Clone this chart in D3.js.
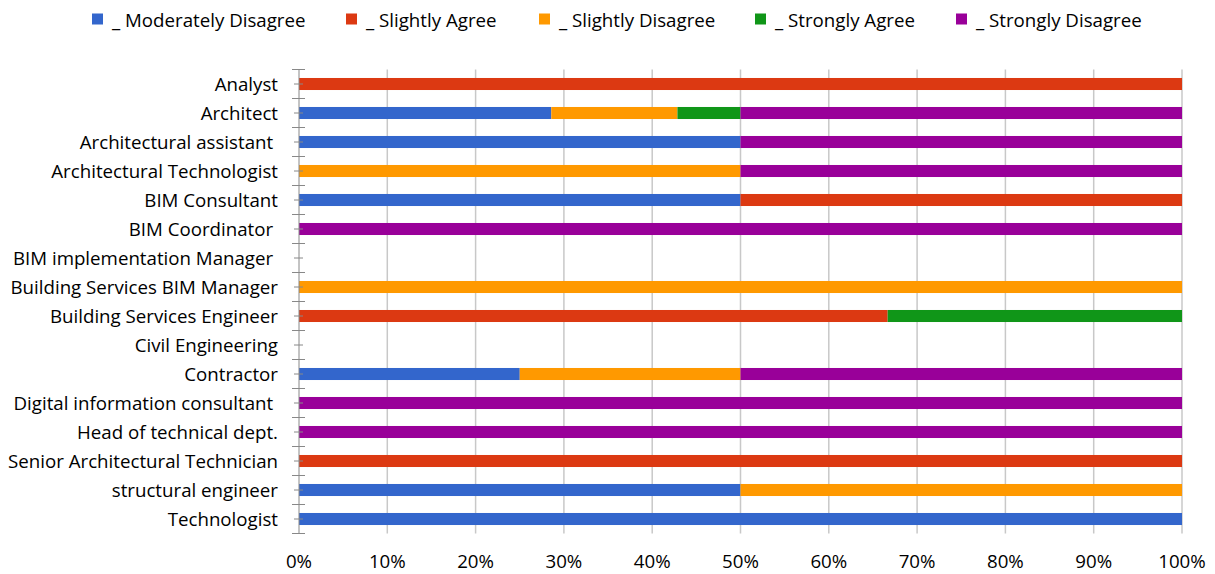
<!DOCTYPE html>
<html><head><meta charset="utf-8">
<script src="https://d3js.org/d3.v7.min.js"></script>
<style>body{margin:0;background:#fff}svg{font-family:"Open Sans",sans-serif}</style>
</head><body><svg id="c" width="1215" height="574"></svg>
<script>
const categories = ["Analyst","Architect","Architectural assistant ","Architectural Technologist","BIM Consultant","BIM Coordinator ","BIM implementation Manager ","Building Services BIM Manager","Building Services Engineer","Civil Engineering","Contractor","Digital information consultant ","Head of technical dept.","Senior Architectural Technician","structural engineer","Technologist"];
const seriesNames = ["_ Moderately Disagree","_ Slightly Agree","_ Slightly Disagree","_ Strongly Agree","_ Strongly Disagree"];
const colors = ["#3366CC","#DC3912","#FF9900","#109618","#990099"];
const moderatelyDisagree = [0,4,1,0,1,0,0,0,0,0,1,0,0,0,1,1];
const slightlyAgree      = [1,0,0,0,1,0,0,0,2,0,0,0,0,1,0,0];
const slightlyDisagree   = [0,2,0,1,0,0,0,1,0,0,1,0,0,0,1,0];
const stronglyAgree      = [0,1,0,0,0,0,0,0,1,0,0,0,0,0,0,0];
const stronglyDisagree   = [0,7,1,1,0,1,0,0,0,0,2,1,1,0,0,0];
const xTicks = [0,0.1,0.2,0.3,0.4,0.5,0.6,0.7,0.8,0.9,1];

const seriesVals = [moderatelyDisagree, slightlyAgree, slightlyDisagree, stronglyAgree, stronglyDisagree];
const rows = categories.map((c,i)=>{
  const r = {cat:c};
  const tot = d3.sum(seriesVals, s=>s[i]);
  seriesNames.forEach((n,k)=>{ r[n] = tot ? seriesVals[k][i]/tot : 0; });
  return r;
});
const stack = d3.stack().keys(seriesNames)(rows);

const svg = d3.select("#c");
function fit(str, w){
  const p = svg.append("text").attr("font-size",20).text(str);
  const s = 20*w/p.node().getComputedTextLength(); p.remove(); return s;
}
const fs = fit("Senior Architectural Technician", 270);

const x = d3.scaleLinear().domain([0,1]).range([299,1182]);
const y = d3.scaleBand().domain(categories).range([69.5,533.5]).paddingInner(0.585).paddingOuter(0.2925);
const band = d3.scaleBand().domain(categories).range([69.5,533.5]);

svg.append("g").selectAll("line").data(xTicks.slice(1)).join("line")
  .attr("x1",d=>x(d)).attr("x2",d=>x(d)).attr("y1",69.5).attr("y2",533.5)
  .attr("stroke","#c8c8c8").attr("stroke-width",1.5);

svg.append("g").selectAll("g").data(stack).join("g")
  .attr("fill",(d,i)=>colors[i])
  .selectAll("rect").data(d=>d).join("rect")
  .attr("x",d=>x(d[0])).attr("width",d=>x(d[1])-x(d[0]))
  .attr("y",d=>y(d.data.cat)).attr("height",y.bandwidth());

const ax = svg.append("g");
ax.append("line").attr("x1",299).attr("x2",299).attr("y1",69.5).attr("y2",533.5).attr("stroke","#888").attr("stroke-width",1);
const bounds = categories.map(c=>band(c)).concat([533.5]);
ax.selectAll("line.maj").data(bounds).join("line").attr("class","maj")
  .attr("x1",292).attr("x2",305).attr("y1",d=>d).attr("y2",d=>d).attr("stroke","#888");
ax.selectAll("line.min").data(categories).join("line").attr("class","min")
  .attr("x1",294).attr("x2",303).attr("y1",d=>band(d)+band.bandwidth()/2).attr("y2",d=>band(d)+band.bandwidth()/2).attr("stroke","#888");
ax.selectAll("text").data(categories).join("text")
  .attr("x",278).attr("y",d=>band(d)+band.bandwidth()/2).attr("dy","0.35em")
  .attr("text-anchor","end").attr("font-size",fs).attr("fill","#000")
  .style("white-space","pre").text(d=>d);

svg.append("g").selectAll("text").data(xTicks).join("text")
  .attr("x",d=>x(d)).attr("y",561).attr("dy","0.35em").attr("text-anchor","middle")
  .attr("font-size",fs).attr("fill","#000").text(d3.format(".0%"));

const legX = [92,346,539,755,956];
const lg = svg.append("g").selectAll("g").data(seriesNames).join("g")
  .attr("transform",(d,i)=>`translate(${legX[i]},0)`);
lg.append("rect").attr("x",0).attr("y",13.5).attr("width",11).attr("height",11).attr("fill",(d,i)=>colors[i]);
lg.append("text").attr("x",20).attr("y",20).attr("dy","0.35em").attr("font-size",fs).attr("fill","#000").text(d=>d);
</script></body></html>
